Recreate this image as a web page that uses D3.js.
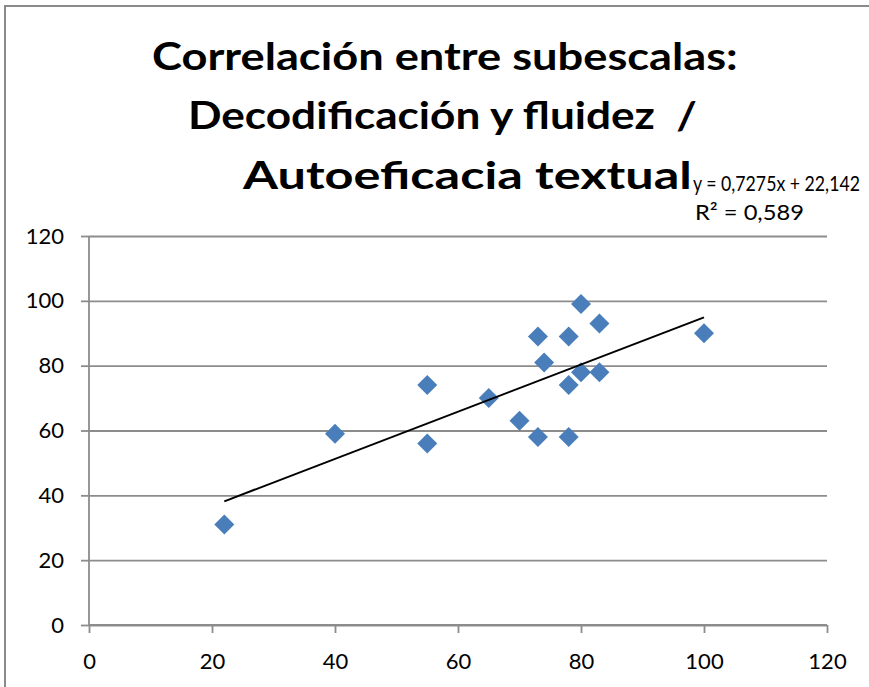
<!DOCTYPE html>
<html>
<head>
<meta charset="utf-8">
<script src="https://cdn.jsdelivr.net/npm/d3@7"></script>
<style>
  body { margin: 0; background: #fff; }
  text { font-family: Lato, "Open Sans", sans-serif; white-space: pre; }
</style>
</head>
<body>
<div id="chart"></div>
<script>
// Decodificación y fluidez (x) vs Autoeficacia textual (y)
const decodificacion = [22, 40, 55, 55, 65, 70, 73, 73, 74, 78, 78, 78, 80, 80, 83, 83, 100];
const autoeficacia   = [31, 59, 74, 56, 70, 63, 89, 58, 81, 89, 74, 58, 99, 78, 93, 78, 90];

const xTicks = [0, 20, 40, 60, 80, 100, 120];
const yTicks = [0, 20, 40, 60, 80, 100, 120];

const titleLines = ["Correlación entre subescalas:", "Decodificación y fluidez  /", "Autoeficacia textual"];

// linear trendline as printed on the chart
const trendSlope = 0.7275;
const trendIntercept = 22.142;
const equationText = "y = 0,7275x + 22,142";
const r2Text = "R² = 0,589";

const W = 869, H = 687;
const plot = { left: 89, right: 827, top: 236, bottom: 625 };

const svg = d3.select("#chart").append("svg")
  .attr("width", W).attr("height", H);

// chart frame (only top and left edges are visible)
svg.append("line").attr("x1", 5).attr("y1", 6).attr("x2", W).attr("y2", 6)
  .attr("stroke", "#8a8a8a").attr("stroke-width", 2);
svg.append("line").attr("x1", 5).attr("y1", 5).attr("x2", 5).attr("y2", H)
  .attr("stroke", "#8a8a8a").attr("stroke-width", 2);

const x = d3.scaleLinear().domain([0, 120]).range([plot.left, plot.right]);
const y = d3.scaleLinear().domain([0, 120]).range([plot.bottom, plot.top]);

// squeeze a text horizontally so it spans `len` px (Calibri is narrower than Lato)
function fitText(sel, px, py, len) {
  sel.attr("x", 0).attr("y", 0);
  const w = sel.node().getComputedTextLength();
  sel.attr("transform", `translate(${px},${py}) scale(${len / w},1)`);
}

//title
const titleLayout = [
  { x: 152, y: 70, len: 586 },
  { x: 188, y: 129, len: 509 },
  { x: 243, y: 189, len: 449 }
];
svg.append("g").selectAll("text")
  .data(titleLines)
  .join("text")
  .attr("font-size", 38)
  .attr("font-weight", "bold")
  .attr("fill", "#000")
  .text(d => d)
  .each(function (d, i) {
    fitText(d3.select(this), titleLayout[i].x, titleLayout[i].y, titleLayout[i].len);
  });

// gridlines + y axis
const yAxis = svg.append("g")
  .attr("transform", `translate(${plot.left},0)`)
  .call(d3.axisLeft(y).tickValues(yTicks).tickSize(8).tickPadding(17));
yAxis.select(".domain").remove();
yAxis.selectAll(".tick line").attr("stroke", "#8c8c8c").attr("stroke-width", 1.8);
yAxis.selectAll(".tick").append("line")
  .attr("x1", 0).attr("x2", plot.right - plot.left)
  .attr("stroke", "#8c8c8c").attr("stroke-width", 1.8);
yAxis.selectAll(".tick text")
  .attr("font-size", 22).attr("fill", "#000")
  .attr("font-family", "Lato, sans-serif");

// x axis
const xAxis = svg.append("g")
  .attr("transform", `translate(0,${plot.bottom})`)
  .call(d3.axisBottom(x).tickValues(xTicks).tickSize(8).tickPadding(20));
xAxis.select(".domain").remove();
xAxis.selectAll(".tick line").attr("stroke", "#8c8c8c").attr("stroke-width", 1.8);
xAxis.selectAll(".tick text")
  .attr("font-size", 22).attr("fill", "#000")
  .attr("font-family", "Lato, sans-serif");

// axis lines
svg.append("line")
  .attr("x1", plot.left).attr("x2", plot.left)
  .attr("y1", plot.top).attr("y2", plot.bottom)
  .attr("stroke", "#8c8c8c").attr("stroke-width", 1.8);
svg.append("line")
  .attr("x1", plot.left).attr("x2", plot.right)
  .attr("y1", plot.bottom).attr("y2", plot.bottom)
  .attr("stroke", "#8c8c8c").attr("stroke-width", 1.8);

// points (diamonds)
const pts = decodificacion.map((v, i) => [v, autoeficacia[i]]);
const diamond = d3.symbol().type(d3.symbolSquare).size(200);
svg.append("g").selectAll("path")
  .data(pts)
  .join("path")
  .attr("d", diamond)
  .attr("transform", d => `translate(${x(d[0])},${y(d[1])}) rotate(45)`)
  .attr("fill", "#4a7ebb");

// trendline over the data range
const [xMin, xMax] = d3.extent(decodificacion);
svg.append("line")
  .attr("x1", x(xMin)).attr("y1", y(trendSlope * xMin + trendIntercept))
  .attr("x2", x(xMax)).attr("y2", y(trendSlope * xMax + trendIntercept))
  .attr("stroke", "#000").attr("stroke-width", 2);

// equation label
fitText(svg.append("text").attr("font-size", 22).text(equationText), 693, 191, 167);
fitText(svg.append("text").attr("font-size", 22).text(r2Text), 695, 220, 109);
</script>
</body>
</html>
